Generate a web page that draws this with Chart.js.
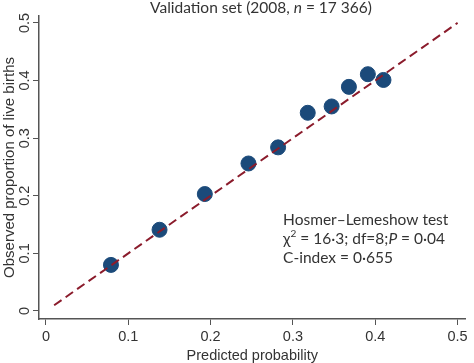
<!DOCTYPE html>
<html>
<head>
<meta charset="utf-8">
<script src="https://cdn.jsdelivr.net/npm/chart.js@4/dist/chart.umd.min.js"></script>
<style>
  body { margin: 0; background: #fff; }
</style>
</head>
<body>
<canvas id="calib" width="474" height="363"></canvas>
<script>
// observed vs predicted, by decile of risk
const predicted = [0.079, 0.138, 0.193, 0.246, 0.282, 0.318, 0.347, 0.368, 0.391, 0.410];
const observed  = [0.080, 0.141, 0.203, 0.256, 0.284, 0.344, 0.355, 0.389, 0.411, 0.401];

// perfect calibration reference line
const refLine = [0.01, 0.5];

const xTicks = [0, 0.1, 0.2, 0.3, 0.4, 0.5];
const xTickLabels = ['0', '0.1', '0.2', '0.3', '0.4', '0.5'];
const yTicks = [0, 0.1, 0.2, 0.3, 0.4, 0.5];
const yTickLabels = ['0', '0.1', '0.2', '0.3', '0.4', '0.5'];

const axisFont = '"Liberation Sans", Arial, sans-serif';
const textFont = 'Lato, "Open Sans", sans-serif';
const axisColor = '#555';

// draws a row of text pieces, some italic / superscript
function drawPieces(ctx, pieces, x, y, size) {
    let cx = x;
    pieces.forEach(p => {
        const s = p.sup ? size * 0.65 : size;
        ctx.font = (p.italic ? 'italic ' : '') + s + 'px ' + textFont;
        ctx.fillText(p.t, cx, p.sup ? y - size * 0.35 : y);
        cx += ctx.measureText(p.t).width;
    });
}

function piecesWidth(ctx, pieces, size) {
    let w = 0;
    pieces.forEach(p => {
        const s = p.sup ? size * 0.65 : size;
        ctx.font = (p.italic ? 'italic ' : '') + s + 'px ' + textFont;
        w += ctx.measureText(p.t).width;
    });
    return w;
}

const textPlugin = {
    id: 'texts',
    afterDraw(chart) {
        const ctx = chart.ctx;
        const xs = chart.scales.x, ys = chart.scales.y;
        ctx.save();
        ctx.fillStyle = '#333';

        // y tick labels, rotated like Stata
        ctx.font = '14.5px ' + axisFont;
        ctx.textAlign = 'center';
        ctx.textBaseline = 'middle';
        yTicks.forEach((v, i) => {
            ctx.save();
            ctx.translate(25, ys.getPixelForValue(v));
            ctx.rotate(-Math.PI / 2);
            ctx.fillText(yTickLabels[i], 0, 0);
            ctx.restore();
        });

        // title
        ctx.textAlign = 'left';
        ctx.textBaseline = 'middle';
        const title = [
            { t: 'Validation set (2008, ' },
            { t: 'n', italic: true },
            { t: ' = 17 366)' }
        ];
        const tw = piecesWidth(ctx, title, 15.5);
        drawPieces(ctx, title, 261 - tw / 2, 8, 15.5);

        // Hosmer-Lemeshow box
        const ax = xs.getPixelForValue(0.288);
        const lines = [
            [{ t: 'Hosmer\u2013Lemeshow test' }],
            [{ t: '\u03C7' }, { t: '2', sup: true }, { t: ' = 16\u00B73; df=8;' }, { t: 'P', italic: true }, { t: ' = 0\u00B704' }],
            [{ t: 'C-index = 0\u00B7655' }]
        ];
        const ly = [0.158, 0.125, 0.092];
        lines.forEach((ln, i) => drawPieces(ctx, ln, ax, ys.getPixelForValue(ly[i]), 15.5));
        ctx.restore();
    }
};

new Chart(document.getElementById('calib'), {
    type: 'scatter',
    data: {
        datasets: [
            {
                type: 'line',
                data: refLine.map(v => ({ x: v, y: v })),
                borderColor: '#8b1c2c',
                borderWidth: 2,
                borderDash: [9, 5],
                pointRadius: 0,
                fill: false,
                order: 0
            },
            {
                data: predicted.map((p, i) => ({ x: p, y: observed[i] })),
                backgroundColor: '#1b4a7a',
                borderColor: '#1b4a7a',
                pointRadius: 7.5,
                order: 1
            }
        ]
    },
    options: {
        responsive: false,
        animation: false,
        devicePixelRatio: 1,
        layout: { padding: { top: 16, right: 2, left: 0, bottom: 0 } },
        plugins: {
            legend: { display: false },
            tooltip: { enabled: false }
        },
        scales: {
            x: {
                type: 'linear',
                min: -0.0084,
                max: 0.5096,
                afterBuildTicks: axis => { axis.ticks = xTicks.map(v => ({ value: v })); },
                afterFit: axis => { axis.height = 44; },
                grid: { drawOnChartArea: false, drawTicks: true, tickLength: 6, color: axisColor },
                border: { display: true, color: axisColor, width: 1.5 },
                ticks: {
                    padding: 3,
                    maxRotation: 0,
                    color: '#333',
                    font: { family: axisFont, size: 14.5 },
                    callback: (v, i) => xTickLabels[i]
                },
                title: {
                    display: true,
                    text: 'Predicted probability',
                    color: '#333',
                    padding: 0,
                    font: { family: axisFont, size: 14.5, lineHeight: 1 }
                }
            },
            y: {
                type: 'linear',
                min: -0.0139,
                max: 0.512,
                afterBuildTicks: axis => { axis.ticks = yTicks.map(v => ({ value: v })); },
                afterFit: axis => { axis.width = 39; },
                grid: { drawOnChartArea: false, drawTicks: true, tickLength: 6, color: axisColor },
                border: { display: true, color: axisColor, width: 1.5 },
                ticks: { display: false },
                title: {
                    display: true,
                    text: 'Observed proportion of live births',
                    color: '#333',
                    padding: { top: 2.5, bottom: 0 },
                    font: { family: axisFont, size: 15, lineHeight: 1 }
                }
            }
        }
    },
    plugins: [textPlugin]
});
</script>
</body>
</html>
